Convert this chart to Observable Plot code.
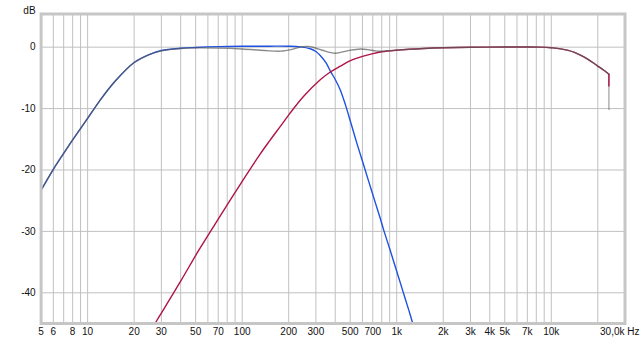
<!DOCTYPE html>
<html>
<head>
<meta charset="utf-8">
<script src="https://cdn.jsdelivr.net/npm/d3@7"></script>
<script src="https://cdn.jsdelivr.net/npm/@observablehq/plot@0.6"></script>
<style>
  html, body { margin: 0; padding: 0; background: #fff; }
  #chart svg { display: block; }
</style>
</head>
<body>
<div id="chart"></div>
<script>
// ---- Data ----
// Blue (low section) response
const blueFreq = [5, 6, 7, 8, 10, 12, 15, 20, 25, 30, 40, 50, 70, 100, 150, 200, 238, 276, 300, 320, 350, 372, 401, 432, 466, 502, 550, 611, 700, 783, 824, 900, 1000, 1100, 1200, 1270];
const blueDb   = [-23.3, -19.9, -17.3, -15.1, -11.6, -8.7, -5.6, -2.5, -1.2, -0.55, -0.18, -0.05, 0.08, 0.14, 0.16, 0.15, 0.05, -0.26, -0.7, -1.35, -2.6, -3.9, -5.3, -7.0, -9.4, -12.1, -15.5, -19.2, -24.0, -27.9, -29.8, -32.8, -36.5, -39.85, -42.9, -45];

// Red (high section) response
const redFreq = [27.3, 30, 40, 52.3, 70, 101, 130, 150, 176.6, 202, 250, 320, 372, 432, 502, 600, 700, 800, 1000, 1500, 2000, 3000, 5000, 7000, 8500, 10000, 11500, 14000, 17100, 19800, 22000, 23600];
const redDb   = [-45, -43.3, -38.1, -33.1, -28.0, -21.7, -17.5, -15.3, -12.9, -10.9, -8.0, -5.3, -4.05, -3.1, -2.2, -1.5, -1.05, -0.75, -0.5, -0.22, -0.1, -0.02, 0.03, 0.03, 0.0, -0.1, -0.27, -0.8, -1.9, -3.0, -3.8, -4.4];

// Gray (sum) response
const sumFreq = [5, 6, 7, 8, 10, 12, 15, 20, 25, 30, 40, 50, 70, 100, 140, 177, 210, 240, 263, 290, 330, 400, 478, 582, 650, 745, 1000, 1500, 2000, 3000, 5000, 7000, 8500, 10000, 11500, 14000, 17100, 19800, 22000, 23600];
const sumDb   = [-23.3, -19.9, -17.3, -15.1, -11.6, -8.7, -5.6, -2.5, -1.2, -0.6, -0.22, -0.12, -0.15, -0.3, -0.55, -0.65, -0.35, 0.05, 0.12, -0.05, -0.5, -0.98, -0.6, -0.3, -0.4, -0.65, -0.48, -0.22, -0.1, -0.02, 0.03, 0.03, 0.0, -0.1, -0.27, -0.8, -1.9, -3.0, -3.8, -4.4];

// Drop at the end of the data
const endFreq = [23600];
const endRedDb = [-4.4, -6.5];
const endSumDb = [-4.4, -10.3];

// Axis ticks / labels
const gridFreqs = [5, 6, 7, 8, 9, 10, 20, 30, 40, 50, 60, 70, 80, 90, 100, 200, 300, 400, 500, 600, 700, 800, 900, 1000, 2000, 3000, 4000, 5000, 6000, 7000, 8000, 9000, 10000, 20000];
const xTickVals = [5, 6, 8, 10, 20, 30, 50, 70, 100, 200, 300, 500, 700, 1000, 2000, 3000, 4000, 5000, 7000, 10000];
const xTickLabels = ["5", "6", "8", "10", "20", "30", "50", "70", "100", "200", "300", "500", "700", "1k", "2k", "3k", "4k", "5k", "7k", "10k"];
const xEndVal = [30000];
const xEndLabel = ["30,0k Hz"];
const yTickVals = [0, -10, -20, -30, -40];
const yTickLabels = ["0", "-10", "-20", "-30", "-40"];
const yUnit = ["dB"];

// ---- Build tables ----
const blue = blueFreq.map((f, i) => ({f, db: blueDb[i]}));
const red = redFreq.map((f, i) => ({f, db: redDb[i]}));
const sum = sumFreq.map((f, i) => ({f, db: sumDb[i]}));
const xTicks = xTickVals.map((v, i) => ({v, label: xTickLabels[i]}));
const yTicks = yTickVals.map((v, i) => ({v, label: yTickLabels[i]}));

const BLUE = "#1f52e0";
const RED = "#b0124a";
const GRAY = "#5a5a5a";
const GRID = "#c0c0c0";
const TEXT = "#111";

const chart = Plot.plot({
  width: 644,
  height: 344,
  marginLeft: 40.6,
  marginRight: 19.5,
  marginTop: 13.5,
  marginBottom: 21,
  x: {type: "log", domain: [5, 30000], axis: null},
  y: {domain: [-45, 5.4], axis: null},
  style: {fontFamily: "'Liberation Sans', Arial, sans-serif", fontSize: "10px", background: "#fff"},
  marks: [
    Plot.ruleX(gridFreqs, {x: d => d, stroke: GRID, strokeWidth: 1}),
    Plot.ruleY(yTickVals, {y: d => d, stroke: GRID, strokeWidth: 1}),
    Plot.line(blue, {x: "f", y: "db", stroke: BLUE, strokeWidth: 1.4, curve: "catmull-rom"}),
    Plot.line(red, {x: "f", y: "db", stroke: RED, strokeWidth: 1.4, curve: "catmull-rom"}),
    Plot.ruleX(endFreq, {x: d => d, y1: endSumDb[0], y2: endSumDb[1], stroke: GRAY, strokeOpacity: 0.5, strokeWidth: 1.4}),
    Plot.ruleX(endFreq, {x: d => d, y1: endRedDb[0], y2: endRedDb[1], stroke: RED, strokeWidth: 1.4}),
    Plot.line(sum, {x: "f", y: "db", stroke: GRAY, strokeOpacity: 0.7, strokeWidth: 1.4, curve: "catmull-rom"}),
    Plot.frame({stroke: "#c6c6c6", strokeWidth: 3}),
    Plot.text(xTicks, {x: "v", text: "label", frameAnchor: "bottom", dy: 11.5, fill: TEXT}),
    Plot.text(xEndVal, {x: d => d, text: () => xEndLabel[0], frameAnchor: "bottom", dy: 11.5, textAnchor: "end", dx: 14.5, fill: TEXT}),
    Plot.text(yTicks, {y: "v", text: "label", frameAnchor: "left", textAnchor: "end", dx: -5.5, fill: TEXT}),
    Plot.text(yUnit, {text: d => d, frameAnchor: "top-left", textAnchor: "end", dx: -5.5, dy: -7, fill: TEXT})
  ]
});
document.getElementById("chart").appendChild(chart);
</script>
</body>
</html>
